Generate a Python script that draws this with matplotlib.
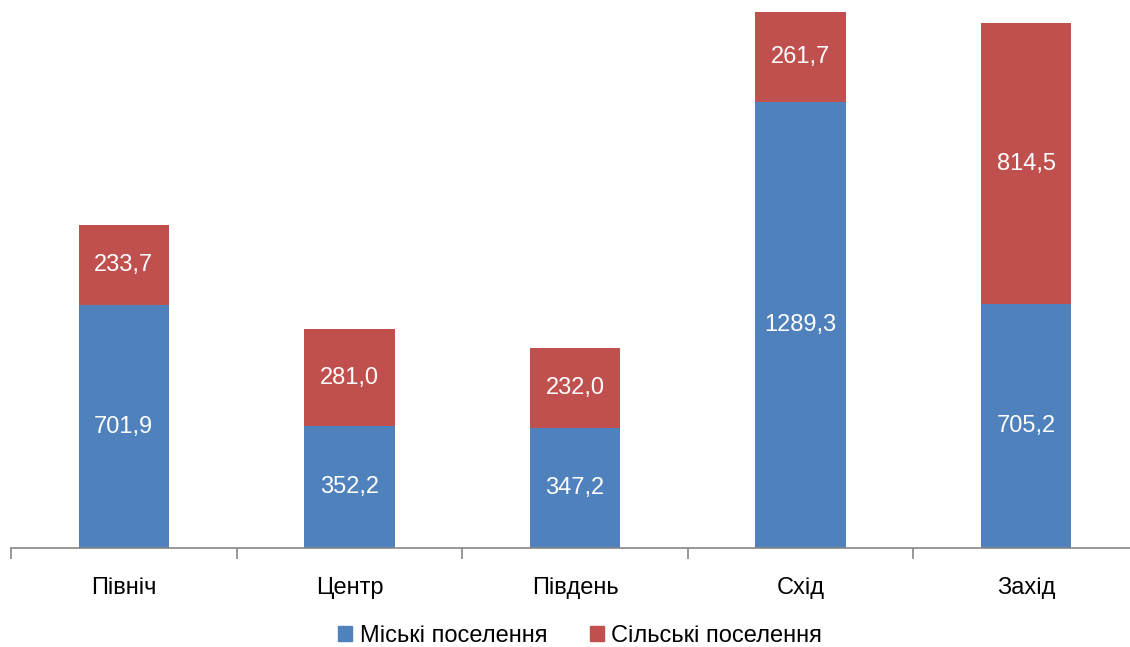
import matplotlib
matplotlib.use('Agg')
import matplotlib.pyplot as plt
from matplotlib.patches import Patch

plt.rcParams['font.family'] = ['Liberation Sans Narrow', 'Liberation Sans', 'DejaVu Sans']

regions = ['Північ', 'Центр', 'Південь', 'Схід', 'Захід']
urban = [701.9, 352.2, 347.2, 1289.3, 705.2]
rural = [233.7, 281.0, 232.0, 261.7, 814.5]
series_names = ['Міські поселення', 'Сільські поселення']

blue = '#4F81BD'
red = '#C0504D'
fs = 17

fig = plt.figure(figsize=(11.30, 6.47), dpi=100)
W, H = 1130, 647
# axes spans past right edge like the source picture
ax = fig.add_axes([11 / W, (H - 548) / H, (1139 - 11) / W, (548 - 12) / H])

x = range(len(regions))
ax.bar(x, urban, width=0.4, color=blue)
ax.bar(x, rural, width=0.4, bottom=urban, color=red)

for i in x:
    ax.text(i, urban[i] / 2, f'{urban[i]:.1f}'.replace('.', ','), ha='center', va='center',
            color='white', fontsize=fs)
    ax.text(i, urban[i] + rural[i] / 2, f'{rural[i]:.1f}'.replace('.', ','), ha='center', va='center',
            color='white', fontsize=fs)

ax.set_xlim(-0.5, len(regions) - 0.5)
ax.set_ylim(0, urban[3] + rural[3])
ax.set_xticks(x)
ax.set_xticklabels(regions, fontsize=fs)
ax.set_xticks([i - 0.5 for i in range(len(regions) + 1)], minor=True)
ax.tick_params(axis='x', which='major', length=0, pad=21)
ax.tick_params(axis='x', which='minor', length=8, color='#868686', width=1.2)
ax.set_yticks([])
for s in ['top', 'right', 'left']:
    ax.spines[s].set_visible(False)
ax.spines['bottom'].set_color('#868686')
ax.spines['bottom'].set_linewidth(1.2)

handles = [Patch(color=blue), Patch(color=red)]
fig.legend(handles, series_names, loc='center', bbox_to_anchor=(580 / W, 1 - 636 / H),
           ncol=2, frameon=False, fontsize=fs, handlelength=0.6, handleheight=0.6,
           handletextpad=0.3, columnspacing=1.8)

fig.savefig('out.png', dpi=100)
